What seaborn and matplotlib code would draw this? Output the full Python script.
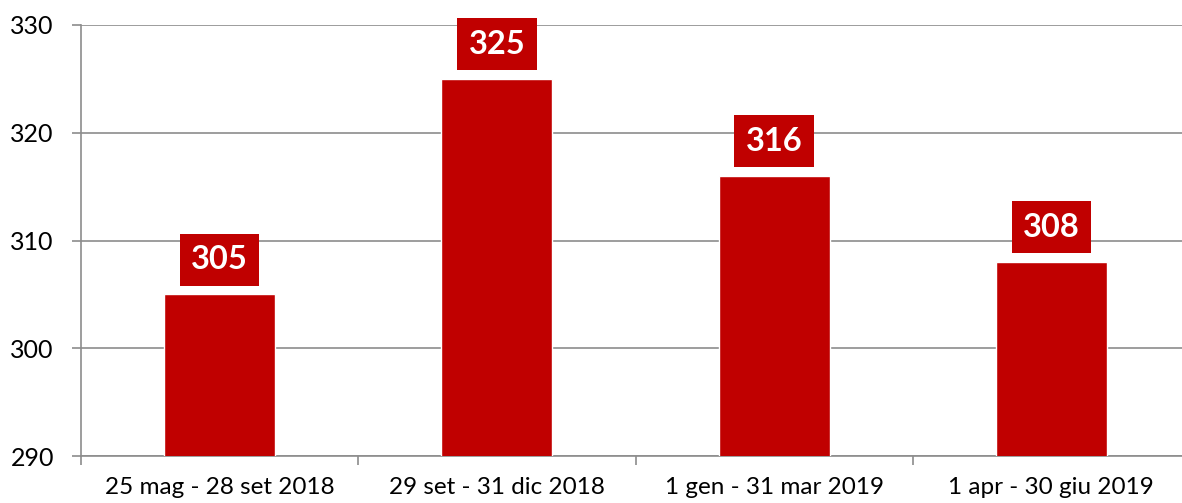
import numpy as np
import pandas as pd
import seaborn as sns
import matplotlib.pyplot as plt

sns.set_style("white")
plt.rcParams['font.family'] = ['Lato', 'DejaVu Sans']

periods = ["25 mag - 28 set 2018", "29 set - 31 dic 2018",
           "1 gen - 31 mar 2019", "1 apr - 30 giu 2019"]
values = [305, 325, 316, 308]
y_ticks = [290, 300, 310, 320, 330]

RED = "#C00000"
GRID = "#8C8C8C"


def main():
  data = pd.DataFrame({"PERIOD": periods, "VALUE": values})

  fig = plt.figure(figsize=(11.82, 5.03), dpi=100)
  ax = fig.add_axes([81 / 1182, 47 / 503, 1109 / 1182, 431 / 503])

  sns.barplot(data=data, x="PERIOD", y="VALUE", color=RED, saturation=1,
              width=0.4, ax=ax, zorder=3)

  ax.set_xlim(-0.5, 3.5)
  ax.set_ylim(290, 330)
  ax.set_yticks(y_ticks)
  ax.yaxis.grid(True, color=GRID, linewidth=1.2, zorder=0)
  ax.set_axisbelow(True)
  ax.set_xlabel("")
  ax.set_ylabel("")

  for s in ["top", "right"]:
    ax.spines[s].set_visible(False)
  for s in ["left", "bottom"]:
    ax.spines[s].set_color(GRID)
    ax.spines[s].set_linewidth(1.2)

  ax.set_xticks(np.arange(-0.5, 4, 1), minor=True)
  ax.tick_params(axis="x", which="major", length=0, pad=15, labelsize=17.5,
                 labelcolor="black")
  ax.tick_params(axis="x", which="minor", length=6.5, width=1.2, color=GRID,
                 direction="out", bottom=True)
  ax.tick_params(axis="y", length=6.5, width=1.2, color=GRID, pad=13,
                 labelsize=18, left=True, labelcolor="black")

  for i, v in enumerate(values):
    ax.annotate(str(v), xy=(i, v), xytext=(0, 25), textcoords="offset points",
                ha="center", va="center", fontsize=23.5, fontweight="bold",
                color="white", zorder=5, annotation_clip=False,
                bbox=dict(boxstyle="square,pad=0.35", fc=RED, ec="none"))

  plt.savefig("out.png", dpi=100)


if __name__ == "__main__":
  main()
